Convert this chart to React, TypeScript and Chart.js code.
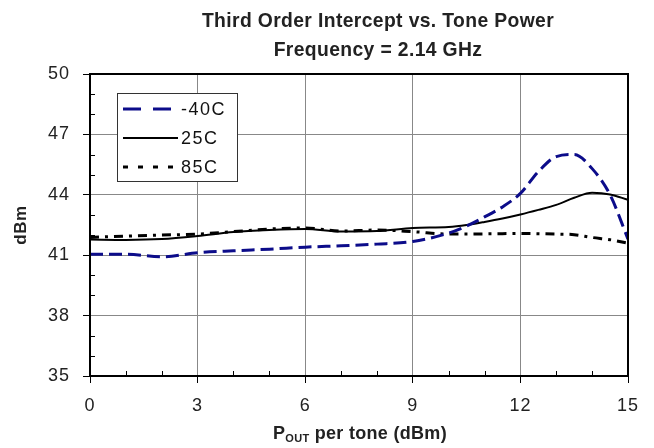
import React, { useEffect, useRef } from "react";
import { Chart, registerables } from "chart.js";

Chart.register(...registerables);

// ---- data ----
const pout = [0, 1, 2, 3, 4, 5, 6, 7, 8, 9, 10, 10.5, 11, 11.5, 12, 12.5, 13, 13.5, 14, 14.5, 15];
const toiMinus40 = [41.05, 41.05, 40.92, 41.12, 41.22, 41.3, 41.4, 41.47, 41.55, 41.68, 42.1, 42.45, 42.9, 43.4, 44.07, 45.15, 45.9, 46.0, 45.3, 44.0, 41.8];
const toi25 = [41.78, 41.76, 41.8, 41.95, 42.15, 42.25, 42.3, 42.18, 42.2, 42.35, 42.4, 42.5, 42.65, 42.82, 43.02, 43.25, 43.5, 43.85, 44.1, 44.02, 43.75];
const toi85 = [41.88, 41.95, 42.0, 42.05, 42.17, 42.3, 42.35, 42.2, 42.25, 42.17, 42.05, 42.05, 42.06, 42.07, 42.08, 42.07, 42.05, 42.02, 41.88, 41.77, 41.6];
const seriesLabels = ["-40C", "25C", "85C"];
const xTicks = [0, 3, 6, 9, 12, 15];
const yTicks = [35, 38, 41, 44, 47, 50];
const titleLines = ["Third Order Intercept vs. Tone Power", "Frequency = 2.14 GHz"];
const yTitle = "dBm";
const xTitleMain = "P";
const xTitleSub = "OUT";
const xTitleRest = " per tone (dBm)";

const FONT = '"Liberation Sans", Arial, sans-serif';
const BLUE = "#0c0c8a";

const legendStyles = [
  { color: BLUE, width: 3, dash: [18, 12] },
  { color: "#000", width: 2, dash: [] as number[] },
  { color: "#000", width: 3, dash: [5, 10] },
];

const setLS = (ctx: any, v: string) => {
  try { ctx.letterSpacing = v; } catch (e) {}
};

const decorPlugin = {
  id: "decor",
  beforeDraw(chart: any) {
    setLS(chart.ctx, "1px");
  },
  afterDraw(chart: any) {
    const { ctx, chartArea: ca, scales } = chart;
    const xs = scales.x;
    const ys = scales.y;
    ctx.save();
    setLS(ctx, "0px");
    // minor ticks
    ctx.strokeStyle = "#000";
    ctx.lineWidth = 1;
    for (let v = 35; v <= 50; v++) {
      if (yTicks.includes(v)) continue;
      const py = Math.round(ys.getPixelForValue(v)) + 0.5;
      ctx.beginPath();
      ctx.moveTo(ca.left, py);
      ctx.lineTo(ca.left + 5, py);
      ctx.stroke();
    }
    for (let v = 0; v <= 15; v++) {
      if (xTicks.includes(v)) continue;
      const px = Math.round(xs.getPixelForValue(v)) + 0.5;
      ctx.beginPath();
      ctx.moveTo(px, ca.bottom);
      ctx.lineTo(px, ca.bottom - 5);
      ctx.stroke();
    }
    // border
    ctx.lineWidth = 2;
    ctx.strokeRect(ca.left, ca.top, ca.right - ca.left, ca.bottom - ca.top);

    // legend
    const lx = ca.left + 27;
    const ly = ca.top + 19;
    const lw = 120;
    const lh = 88;
    ctx.fillStyle = "#fff";
    ctx.fillRect(lx, ly, lw, lh);
    ctx.strokeStyle = "#333";
    ctx.lineWidth = 1;
    ctx.strokeRect(lx + 0.5, ly + 0.5, lw, lh);
    const rows = [16, 45, 74];
    seriesLabels.forEach((lab, i) => {
      const st = legendStyles[i];
      const ry = ly + rows[i];
      ctx.strokeStyle = st.color;
      ctx.lineWidth = st.width;
      ctx.setLineDash(st.dash);
      ctx.beginPath();
      ctx.moveTo(lx + 6, ry);
      ctx.lineTo(lx + 61, ry);
      ctx.stroke();
      ctx.setLineDash([]);
      ctx.fillStyle = "#111";
      ctx.font = `18px ${FONT}`;
      setLS(ctx, "1.5px");
      ctx.textAlign = "left";
      ctx.textBaseline = "middle";
      ctx.fillText(lab, lx + 64, ry + 1);
      setLS(ctx, "0px");
    });

    // titles (slightly condensed)
    ctx.fillStyle = "#222";
    ctx.textAlign = "center";
    ctx.textBaseline = "alphabetic";
    ctx.font = `bold 21px ${FONT}`;
    setLS(ctx, "0.4px");
    ctx.save();
    ctx.translate(378, 0);
    ctx.scale(0.92, 1);
    ctx.fillText(titleLines[0], 0, 27);
    ctx.fillText(titleLines[1], 0, 56);
    ctx.restore();
    setLS(ctx, "0px");

    // y title
    ctx.save();
    ctx.translate(26, 225);
    ctx.rotate(-Math.PI / 2);
    ctx.font = `bold 17px ${FONT}`;
    setLS(ctx, "0.5px");
    ctx.textAlign = "center";
    ctx.textBaseline = "alphabetic";
    ctx.fillText(yTitle, 0, 0);
    ctx.restore();

    // x title with subscript
    setLS(ctx, "0.3px");
    ctx.textAlign = "left";
    const mainFont = `bold 18px ${FONT}`;
    const subFont = `bold 11px ${FONT}`;
    ctx.font = mainFont;
    const w1 = ctx.measureText(xTitleMain).width;
    const w3 = ctx.measureText(xTitleRest).width;
    ctx.font = subFont;
    const w2 = ctx.measureText(xTitleSub).width;
    const total = w1 + w2 + w3;
    let sx = 360 - total / 2;
    const base = 439;
    ctx.font = mainFont;
    ctx.fillText(xTitleMain, sx, base);
    sx += w1;
    ctx.font = subFont;
    ctx.fillText(xTitleSub, sx, base + 3);
    sx += w2;
    ctx.font = mainFont;
    ctx.fillText(xTitleRest, sx, base);
    ctx.restore();
  },
};

export default function App() {
  const ref = useRef<HTMLCanvasElement | null>(null);
  useEffect(() => {
    if (!ref.current) return;
    const mk = (ys: number[]) => pout.map((x, i) => ({ x, y: ys[i] }));
    const chart = new Chart(ref.current, {
      type: "line",
      data: {
        datasets: [
          {
            label: seriesLabels[0],
            data: mk(toiMinus40),
            borderColor: BLUE,
            borderWidth: 3,
            borderDash: [13, 6],
            pointRadius: 0,
            tension: 0.4,
            cubicInterpolationMode: "monotone",
            fill: false,
          },
          {
            label: seriesLabels[1],
            data: mk(toi25),
            borderColor: "#000",
            borderWidth: 2,
            pointRadius: 0,
            tension: 0.4,
            cubicInterpolationMode: "monotone",
            fill: false,
          },
          {
            label: seriesLabels[2],
            data: mk(toi85),
            borderColor: "#000",
            borderWidth: 3,
            borderDash: [9, 6, 3, 6],
            pointRadius: 0,
            tension: 0.4,
            cubicInterpolationMode: "monotone",
            fill: false,
          },
        ],
      } as any,
      options: {
        animation: false,
        responsive: true,
        maintainAspectRatio: false,
        layout: { padding: { top: 74, right: 26, left: 0, bottom: 0 } },
        plugins: { legend: { display: false }, tooltip: { enabled: false }, title: { display: false } },
        scales: {
          x: {
            type: "linear",
            min: 0,
            max: 15,
            afterBuildTicks: (s: any) => { s.ticks = xTicks.map((v) => ({ value: v })); },
            afterFit: (s: any) => { s.height = 72; },
            ticks: { font: { family: FONT, size: 18 }, color: "#222", padding: 12, maxRotation: 0 },
            grid: { color: "#888", lineWidth: 1, tickLength: 7, tickColor: "#000", drawOnChartArea: true },
            border: { display: false },
          },
          y: {
            type: "linear",
            min: 35,
            max: 50,
            afterBuildTicks: (s: any) => { s.ticks = yTicks.map((v) => ({ value: v })); },
            afterFit: (s: any) => { s.width = 90; },
            ticks: { font: { family: FONT, size: 18 }, color: "#222", padding: 13 },
            grid: { color: "#888", lineWidth: 1, tickLength: 7, tickColor: "#000", drawOnChartArea: true },
            border: { display: false },
          },
        },
      } as any,
      plugins: [decorPlugin],
    });
    return () => chart.destroy();
  }, []);
  return (
    <div style={{ position: "absolute", left: 0, top: 0, width: 654, height: 448, background: "#fff" }}>
      <canvas ref={ref} />
    </div>
  );
}
